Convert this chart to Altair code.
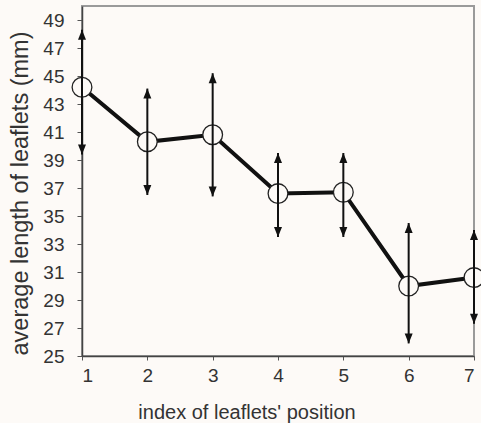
import altair as alt
import pandas as pd

positions = [1, 2, 3, 4, 5, 6, 7]
means = [44.2, 40.3, 40.8, 36.6, 36.7, 30.0, 30.6]
upper = [48.3, 44.1, 45.2, 39.5, 39.5, 34.5, 34.0]
lower = [39.4, 36.5, 36.4, 33.5, 33.5, 25.9, 27.3]
y_ticks = list(range(25, 50, 2))

df = pd.DataFrame({"pos": positions, "mean": means, "hi": upper, "lo": lower})

BG = "#fdfaf7"
INK = "#111111"

x_enc = alt.X(
    "pos:Q",
    scale=alt.Scale(domain=[1, 7], nice=False, zero=False),
    axis=alt.Axis(
        title="index of leaflets' position",
        values=positions,
        tickCount=20,
        format="d",
        tickSize=4,
        labelPadding=6,
        labelOverlap=False,
        titleX=164.5,
        titleY=62,
        titleAlign="center",
        titleBaseline="alphabetic",
        titleFontSize=20,
    ),
)
y_axis = alt.Axis(
    title="average length of leaflets (mm)",
    values=y_ticks,
    tickCount=40,
    format="d",
    tickSize=5,
    labelPadding=13,
    labelOverlap=False,
    titleAngle=270,
    titleX=-55,
    titleY=187,
    titleAlign="center",
    titleBaseline="alphabetic",
    titleFontSize=23.5,
)
y_scale = alt.Scale(domain=[25, 50], nice=False, zero=False)

base = alt.Chart(df)

line = base.mark_line(color=INK, strokeWidth=4).encode(
    x=x_enc, y=alt.Y("mean:Q", scale=y_scale, axis=y_axis)
)
circles = base.mark_point(
    shape="circle", size=390, filled=True, fill=BG, stroke="#222222",
    strokeWidth=1.3, opacity=1
).encode(x="pos:Q", y="mean:Q")
rules = base.mark_rule(color=INK, strokeWidth=2).encode(
    x="pos:Q", y="lo:Q", y2="hi:Q"
)
arrow_up = base.mark_point(
    shape="M0,0L-0.8,2L0.8,2Z", size=100, filled=True, color=INK, opacity=1
).encode(x="pos:Q", y="hi:Q")
arrow_down = base.mark_point(
    shape="M0,0L-0.8,-2L0.8,-2Z", size=100, filled=True, color=INK, opacity=1
).encode(x="pos:Q", y="lo:Q")

chart = (
    alt.layer(line, circles, rules, arrow_up, arrow_down)
    .properties(
        width=392,
        height=350,
        autosize=alt.AutoSizeParams(type="none"),
        padding={"left": 82, "top": 6, "right": 7, "bottom": 67},
        background=BG,
    )
    .configure_view(stroke="#9a9a9a", strokeWidth=2)
    .configure_axis(
        grid=False,
        domainColor="#444444",
        domainWidth=1.5,
        tickColor="#555555",
        tickWidth=1,
        labelColor="#333333",
        labelFont="Liberation Sans",
        labelFontSize=19,
        titleFont="Liberation Sans",
        titleFontWeight="normal",
        titleColor="#333333",
    )
)

chart.save("out.html", embed_options={"renderer": "svg", "actions": False})
